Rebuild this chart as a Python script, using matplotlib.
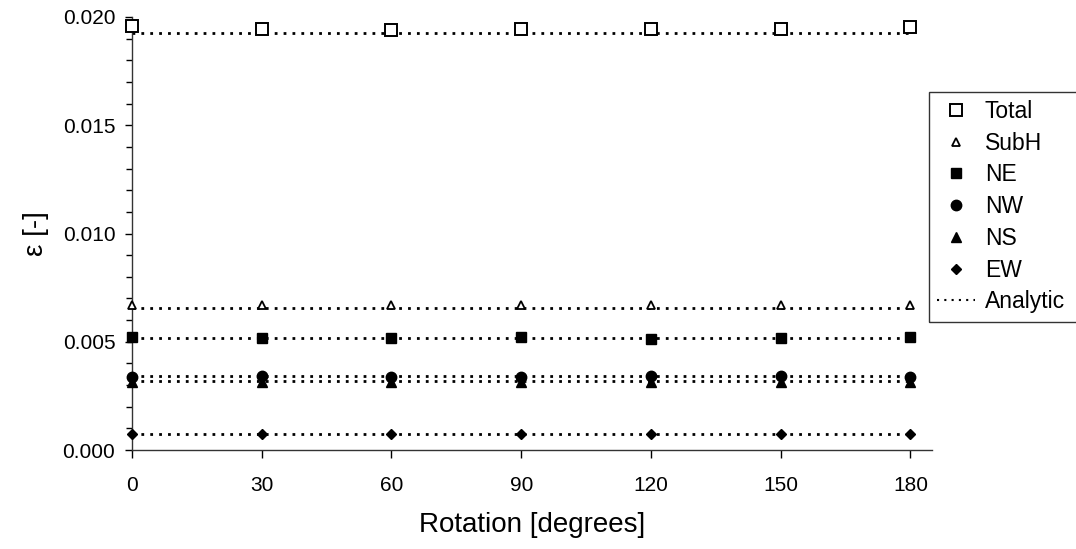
import numpy as np
import matplotlib.pyplot as plt
from matplotlib.patches import Rectangle
from matplotlib.ticker import MultipleLocator, FormatStrFormatter

plt.rcParams['font.family'] = ['Liberation Sans', 'DejaVu Sans']

rotation = [0, 30, 60, 90, 120, 150, 180]

total = [0.01958, 0.01946, 0.01938, 0.01943, 0.01943, 0.01946, 0.01952]
subh = [0.00670, 0.00670, 0.00668, 0.00668, 0.00670, 0.00670, 0.00672]
ne = [0.00520, 0.00518, 0.00518, 0.00520, 0.00512, 0.00518, 0.00520]
nw = [0.00339, 0.00341, 0.00339, 0.00339, 0.00341, 0.00341, 0.00339]
ns = [0.00315, 0.00315, 0.00315, 0.00315, 0.00315, 0.00315, 0.00315]
ew = [0.00074, 0.00074, 0.00074, 0.00074, 0.00074, 0.00074, 0.00074]

# analytic solutions (constant over rotation)
analytic = [0.01926, 0.00654, 0.00516, 0.00342, 0.00320, 0.00074]

fig = plt.figure(figsize=(10.76, 5.49), dpi=100)
ax = fig.add_axes([132/1076, 1 - 450/549, 800/1076, 433/549])

dot = (0, (1, 2.2))
for a in analytic:
    ax.plot([rotation[0], rotation[-1]], [a, a], color='black', lw=2, ls=dot, zorder=1)

ax.plot(rotation, total, ls='none', marker='s', ms=8.5, mfc='white', mec='black', mew=1.4, label='Total', zorder=3)
ax.plot(rotation, subh, ls='none', marker='^', ms=6, mfc='white', mec='black', mew=1.3, label='SubH', zorder=3)
ax.plot(rotation, ne, ls='none', marker='s', ms=7.5, color='black', label='NE', zorder=3)
ax.plot(rotation, nw, ls='none', marker='o', ms=7.5, color='black', label='NW', zorder=3)
ax.plot(rotation, ns, ls='none', marker='^', ms=7.5, color='black', label='NS', zorder=3)
ax.plot(rotation, ew, ls='none', marker='D', ms=5.5, color='black', label='EW', zorder=3)
ax.plot([], [], color='black', lw=1.5, ls=(0, (1, 2.5)), label='Analytic')

ax.set_xlim(0, 185)
ax.set_ylim(0, 0.020)
ax.set_xticks(rotation)
ax.yaxis.set_major_locator(MultipleLocator(0.005))
ax.yaxis.set_minor_locator(MultipleLocator(0.001))
ax.yaxis.set_major_formatter(FormatStrFormatter('%.3f'))

for s in ['top', 'right']:
    ax.spines[s].set_visible(False)
for s in ['left', 'bottom']:
    ax.spines[s].set_color('#333333')
    ax.spines[s].set_linewidth(1.0)

ax.tick_params(axis='both', which='major', direction='out', length=5, width=1, labelsize=15)
ax.tick_params(axis='x', which='major', length=6, pad=13)
ax.tick_params(axis='y', which='major', pad=7)
ax.tick_params(axis='y', which='minor', direction='out', length=4, width=1)

ax.set_xlabel('Rotation [degrees]', fontsize=20, labelpad=12)
ax.set_ylabel('ε [-]', fontsize=20, labelpad=10)

for line in ax.lines:
    line.set_clip_on(False)

leg = fig.legend(loc='upper left', bbox_to_anchor=(929/1076, 1 - 92/549), fontsize=16.5,
                 frameon=False, borderaxespad=0, borderpad=0.35, labelspacing=0.38,
                 handlelength=1.65, handletextpad=0.44, numpoints=1)

# legend box runs past the right edge of the figure
fig.patches.append(Rectangle((929/1076, 1 - 322/549), 160/1076, 230/549,
                             transform=fig.transFigure, fill=False,
                             edgecolor='#333333', lw=1.0, clip_on=False))

fig.savefig('out.png', dpi=100)
